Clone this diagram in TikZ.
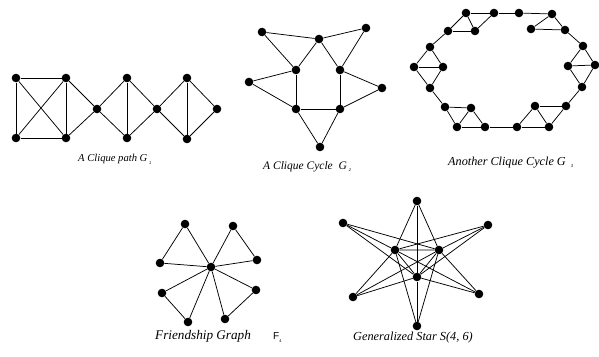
\documentclass[tikz,border=0pt]{standalone}
\usepackage{fontspec}
\setmainfont{Liberation Serif}
\newfontfamily\labelsans{Liberation Sans}
\usetikzlibrary{positioning}
\tikzset{
 vtx/.style={circle, fill=black, draw=none, inner sep=0pt, minimum size=8.6pt},
 gedge/.style={draw=black, line width=0.75pt},
 caption/.style={font=\itshape, anchor=base west, inner sep=0pt},
}
\newcommand{\subidx}[1]{\raisebox{-2.5pt}{\labelsans\fontsize{4}{4}\selectfont #1}}

\begin{document}
\begin{tikzpicture}[x=1pt, y=-1pt]
\useasboundingbox (0,0) rectangle (599,356);

% --- Clique path G1 ---
\foreach \n/\x/\y in {p1/16/78, p2/16/138, p3/66/78, p4/66/138, p5/97/109,
  p6/127/78, p7/127/138, p8/157/109, p9/187/78, p10/187/139, p11/217/109}
  { \node[vtx] (\n) at (\x,\y) {}; }
\foreach \a/\b in {p1/p3, p1/p2, p1/p4, p2/p3, p2/p4, p3/p4, p3/p5, p4/p5,
  p5/p6, p5/p7, p6/p7, p6/p8, p7/p8, p8/p9, p8/p10, p9/p10, p9/p11, p10/p11}
  { \draw[gedge] (\a) -- (\b); }
\node[caption] (capA) at (78,161.5) {\fontsize{10.6}{12}\selectfont A Clique path G\,\subidx{1}};

% --- Clique cycle G2 ---
\foreach \n/\x/\y in {c1/262/32, c2/319/39, c3/366/28, c4/296/70, c5/340/70,
  c6/249/82, c7/382/88, c8/296/109, c9/340/109, c10/320/147}
  { \node[vtx] (\n) at (\x,\y) {}; }
\foreach \a/\b in {c1/c2, c1/c4, c2/c4, c2/c5, c2/c3, c3/c5, c4/c8, c5/c9,
  c8/c9, c6/c4, c6/c8, c7/c5, c7/c9, c10/c8, c10/c9}
  { \draw[gedge] (\a) -- (\b); }
\node[caption] (capB) at (263,169) {\fontsize{11.5}{13}\selectfont A Clique Cycle\ \ G\,\subidx{2}};

% --- Another clique cycle G3 ---
\foreach \n/\x/\y in {q1/466/13, q2/494/13, q3/448/31, q4/475/31,
  q5/519/13, q6/552/14, q7/531/29, q8/565/30,
  q9/583/46, q10/568/66, q11/595/65, q12/582/87,
  q13/566/106, q14/535/106, q15/549/127, q16/517/127,
  q17/485/127, q18/457/127, q19/471/108, q20/445/107,
  q21/430/88, q22/414/67, q23/443/67, q24/430/47}
  { \node[vtx] (\n) at (\x,\y) {}; }
\foreach \a/\b in {q1/q2, q1/q3, q1/q4, q3/q4, q4/q2, q2/q5,
  q5/q6, q6/q7, q7/q8, q6/q8, q8/q9,
  q9/q10, q9/q11, q10/q11, q10/q12, q11/q12, q12/q13,
  q14/q13, q14/q16, q14/q15, q13/q15, q16/q15, q16/q17,
  q19/q17, q18/q17, q20/q19, q20/q18, q19/q18, q20/q21,
  q22/q21, q23/q21, q24/q22, q24/q23, q22/q23, q24/q3}
  { \draw[gedge] (\a) -- (\b); }
\node[caption] (capC) at (448,165) {\fontsize{12.2}{14}\selectfont Another Clique Cycle G\hspace{5pt}\subidx{3}};

% --- Friendship graph F4 ---
\node[vtx] (f0) at (211,267) {};
\foreach \n/\x/\y in {f1/185/224, f2/160/263, f3/233/226, f4/257/260,
  f5/162/293, f6/188/322, f7/256/290, f8/225/319}
  { \node[vtx] (\n) at (\x,\y) {};
    \draw[gedge] (f0) -- (\n); }
\foreach \a/\b in {f1/f2, f3/f4, f5/f6, f7/f8}
  { \draw[gedge] (\a) -- (\b); }
\node[caption] (capD) at (155,339.5) {\fontsize{13.2}{15}\selectfont Friendship Graph};
\node[anchor=base west, inner sep=0pt, font=\labelsans\fontsize{10}{12}\selectfont]
  (capF) at (273,339.5) {F\subidx{4}};

% --- Generalized star S(4,6) ---
\foreach \n/\x/\y in {i1/395/250, i2/439/250, i3/417/277}
  { \node[vtx] (\n) at (\x,\y) {}; }
\draw[gedge] (i1) -- (i2) -- (i3) -- (i1);
\foreach \n/\x/\y in {s1/417/201, s2/343/223, s3/488/225,
  s4/353/297, s5/479/294, s6/417/326}
  { \node[vtx] (\n) at (\x,\y) {};
    \foreach \m in {i1,i2,i3} { \draw[gedge] (\n) -- (\m); } }
\node[caption] (capE) at (353,340) {\fontsize{12.3}{14}\selectfont Generalized Star S(4, 6)};

\end{tikzpicture}
\end{document}
